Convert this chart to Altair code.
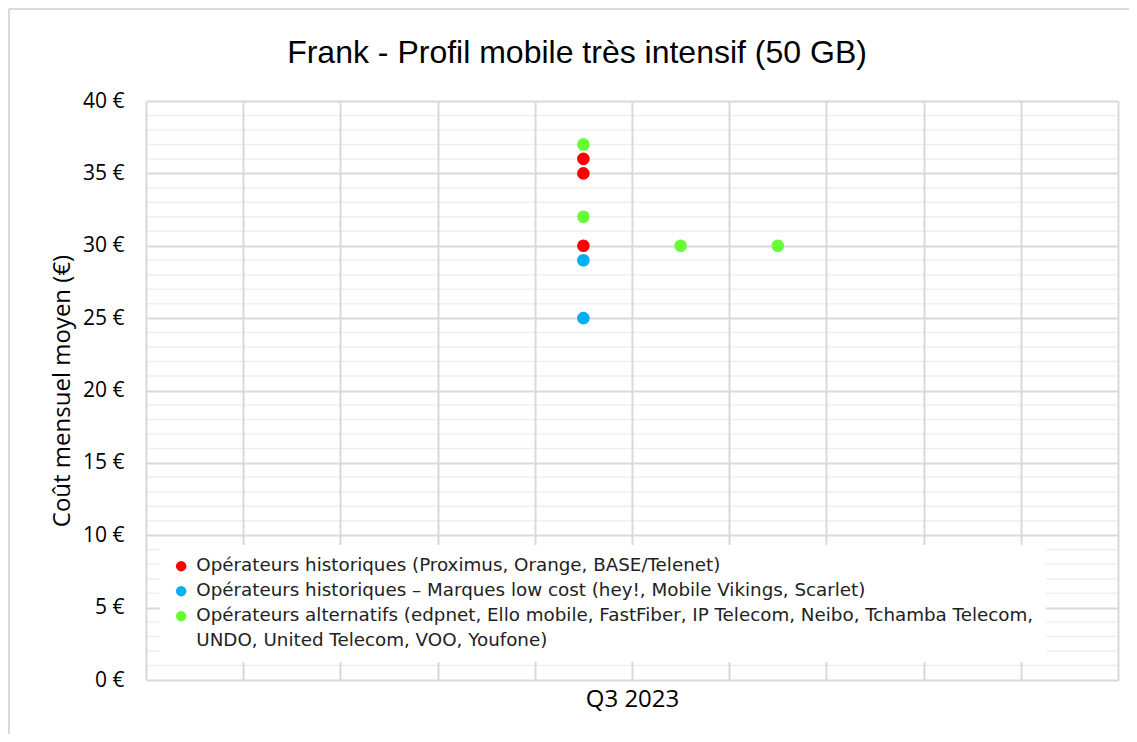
import altair as alt
import pandas as pd

TITLE = "Frank - Profil mobile très intensif (50 GB)"
Y_TITLE = "Coût mensuel moyen (€)"
X_TITLE = "Q3 2023"

GROUPS = [
    "Opérateurs historiques (Proximus, Orange, BASE/Telenet)",
    "Opérateurs historiques – Marques low cost (hey!, Mobile Vikings, Scarlet)",
    "Opérateurs alternatifs (edpnet, Ello mobile, FastFiber, IP Telecom, Neibo, Tchamba Telecom,",
    "UNDO, United Telecom, VOO, Youfone)",
]
COLORS = ["#FF0000", "#00B0F0", "#66FF33", "transparent"]

# series values (x position on the 0-10 axis, monthly cost in €)
HIST_X = [4.5, 4.5, 4.5]
HIST_Y = [36, 35, 30]
LOWCOST_X = [4.5, 4.5]
LOWCOST_Y = [29, 25]
ALT_X = [4.5, 4.5, 5.5, 6.5]
ALT_Y = [37, 32, 30, 30]

Y_TICKS = [0, 5, 10, 15, 20, 25, 30, 35, 40]
X_TICKS = [0, 1, 2, 3, 4, 5, 6, 7, 8, 9, 10]
MINOR_TICKS = [v for v in range(0, 41) if v % 5 != 0]

rows = []
for xs, ys, g in [(HIST_X, HIST_Y, GROUPS[0]), (LOWCOST_X, LOWCOST_Y, GROUPS[1]), (ALT_X, ALT_Y, GROUPS[2])]:
    for x, y in zip(xs, ys):
        rows.append({"x": x, "y": y, "group": g})
df = pd.DataFrame(rows)
minor_df = pd.DataFrame({"v": MINOR_TICKS})

y_scale = alt.Scale(domain=[0, 40], nice=False, zero=True)
x_scale = alt.Scale(domain=[0, 10], nice=False)

one = pd.DataFrame({"a": [0]})
border_left = alt.Chart(one).mark_rule(color="#D9D9D9", strokeWidth=2).encode(
    x=alt.value(-137), y=alt.value(-92), y2=alt.value(800)
)
border_top = alt.Chart(one).mark_rule(color="#D9D9D9", strokeWidth=2).encode(
    x=alt.value(-137), x2=alt.value(1100), y=alt.value(-92)
)

minor = alt.Chart(minor_df).mark_rule(color="#EFEFEF", strokeWidth=1.5).encode(
    y=alt.Y("v:Q", scale=y_scale)
)

points = alt.Chart(df).mark_circle(size=160, opacity=1).encode(
    x=alt.X(
        "x:Q",
        scale=x_scale,
        axis=alt.Axis(
            values=X_TICKS, labels=False, ticks=False, domain=False, grid=True,
            gridColor="#D9D9D9", gridWidth=2, title=X_TITLE, titleFont="Open Sans",
            titleFontSize=24, titleFontWeight="normal", titleColor="#000000",
            titlePadding=7, zindex=1,
        ),
    ),
    y=alt.Y(
        "y:Q",
        scale=y_scale,
        axis=alt.Axis(
            values=Y_TICKS, labelExpr="datum.value + ' €'", ticks=False, domain=False,
            grid=True, gridColor="#D9D9D9", gridWidth=2, labelFont="Open Sans",
            labelFontSize=21, labelColor="#000000", labelPadding=22,
            title=Y_TITLE, titleFont="Open Sans", titleFontSize=24,
            titleFontWeight="normal", titleColor="#000000", titlePadding=8,
        ),
    ),
    color=alt.Color(
        "group:N",
        scale=alt.Scale(domain=GROUPS, range=COLORS),
        legend=alt.Legend(
            orient="none", legendX=14, legendY=444, title=None, fillColor="white",
            padding=12, symbolType="circle", symbolSize=110, symbolStrokeWidth=0,
            labelFont="DejaVu Sans", labelFontSize=18.3, labelColor="#222222",
            rowPadding=6, labelLimit=2000, labelOffset=6, zindex=2,
        ),
    ),
)

chart = alt.layer(border_left, border_top, minor, points).properties(
    width=972,
    height=579,
    padding={"left": 138, "top": 93, "right": 11, "bottom": 54},
    autosize=alt.AutoSizeParams(type="none"),
    title=alt.TitleParams(
        TITLE, font="Liberation Sans", fontSize=32, fontWeight="normal",
        color="#000000", anchor="middle", baseline="alphabetic", frame="group",
        offset=0, dx=-55, dy=87,
    ),
).configure_view(stroke=None)

chart.save("out.html", embed_options={"renderer": "svg", "actions": False})
